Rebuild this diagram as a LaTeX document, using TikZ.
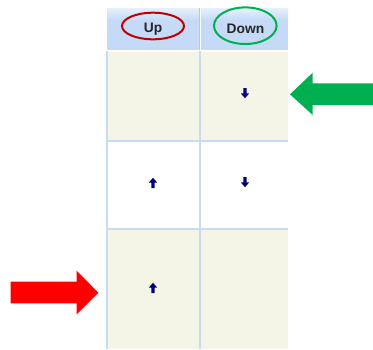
\documentclass[tikz,border=0pt]{standalone}
\usepackage{fontspec}
\setmainfont{Liberation Sans}
\definecolor{beige}{HTML}{F5F5E7}
\definecolor{gridblue}{HTML}{C7DBF3}
\definecolor{hdrtop}{HTML}{E6F0FC}
\definecolor{hdrbot}{HTML}{C4DAF7}
\definecolor{navy}{HTML}{00007A}
\definecolor{bigred}{HTML}{FF0000}
\definecolor{biggreen}{HTML}{00B050}
\definecolor{ringred}{HTML}{C00000}
\definecolor{ringgreen}{HTML}{00B050}
\definecolor{hdrtext}{HTML}{262626}
\begin{document}
\begin{tikzpicture}[x=1pt,y=-1pt,
  hdrlabel/.style={font=\bfseries\fontsize{13.8}{14}\selectfont, text=hdrtext, inner sep=0pt},
  ring/.style={line width=2pt},
  gridline/.style={draw=gridblue, line width=2pt},
  pics/upmark/.style={code={
    \fill[navy, rounded corners=0.3pt] (0,-5.2) -- (4.2,-0.4) -- (1.6,-0.4) -- (1.6,5) -- (-1.6,5) -- (-1.6,-0.4) -- (-4.2,-0.4) -- cycle;}},
  pics/downmark/.style={code={
    \fill[navy, rounded corners=0.3pt] (0,5.2) -- (4.2,0.4) -- (1.6,0.4) -- (1.6,-5) -- (-1.6,-5) -- (-1.6,0.4) -- (-4.2,0.4) -- cycle;}}
]
\useasboundingbox (0,0) rectangle (373,349);
\fill[white] (0,0) rectangle (373,349);
% header
\shade[top color=hdrtop, bottom color=hdrbot] (107,8) rectangle (288,20.5);
\fill[hdrbot] (107,20) rectangle (288,49.5);
\draw[draw=gridblue!80!black!70, line width=0.8pt] (199,8) -- (199,49.5);
\draw[white, line width=1.2pt] (200.5,8) -- (200.5,49.5);
% rows
\fill[beige] (107,52) rectangle (288,140.5);
\fill[white] (107,141.5) rectangle (288,228.5);
\fill[beige] (107,229.5) rectangle (288,349);
\draw[gridline] (107,141) -- (288,141);
\draw[gridline] (107,229) -- (288,229);
\draw[gridline] (106.8,51) -- (106.8,349);
\draw[gridline] (199.6,51) -- (199.6,349);
% header labels
\node[hdrlabel] (up) at (153,29) {Up};
\node[hdrlabel] (down) at (245.5,29) {Down};
\draw[ring, ringred] (153,26) ellipse [x radius=31, y radius=13.3];
\draw[ring, ringgreen] (245.3,25.7) ellipse [x radius=31.3, y radius=18.3];
% cell marks
\pic at (245,93) {downmark};
\pic at (153,183) {upmark};
\pic at (245,182) {downmark};
\pic at (153,288) {upmark};
% big arrows
\coordinate (gtip) at (290,94.3);
\coordinate (rtip) at (98.3,292.7);
\fill[biggreen] (gtip) -- (312.7,72.7) -- (312.7,83.3) -- (373,83.3) -- (373,105) -- (312.7,105) -- (312.7,115) -- cycle;
\fill[bigred] (rtip) -- (76.7,270.7) -- (76.7,281.7) -- (10.7,281.7) -- (10.7,303.3) -- (76.7,303.3) -- (76.7,314.3) -- cycle;
\end{tikzpicture}
\end{document}
